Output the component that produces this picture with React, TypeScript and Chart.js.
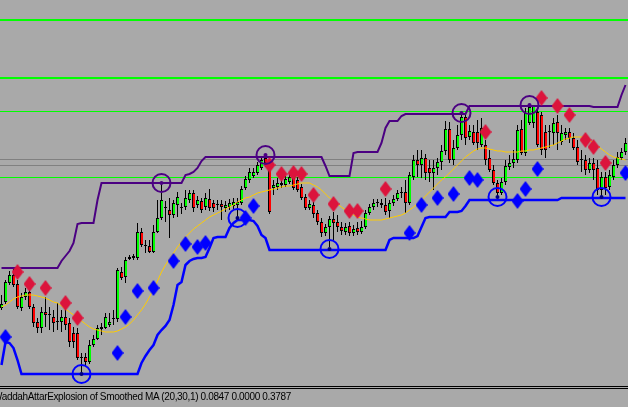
import React, { useEffect, useRef } from 'react';
import { Chart, registerables } from 'chart.js';

Chart.register(...registerables);

// Candle data (arbitrary price units), one entry per bar
const opens = [
  92, 98, 117, 125, 116, 92, 103, 108, 93, 78,
  72, 88, 85, 83, 78, 78, 83, 77, 67, 67,
  42, 43, 38, 55, 61, 71, 72, 75, 81, 81,
  128, 123, 141, 142, 142, 168, 154, 154, 148, 168,
  182, 192, 190, 185, 195, 192, 193, 200, 207, 195,
  199, 193, 201, 197, 195, 196, 192, 193, 194, 195,
  197, 212, 220, 224, 227, 232, 242, 235, 212, 213,
  217, 215, 218, 222, 220, 213, 203, 192, 195, 187,
  178, 167, 173, 181, 178, 173, 168, 174, 167, 172,
  168, 173, 187, 193, 197, 197, 195, 189, 197, 201,
  207, 208, 197, 223, 240, 235, 242, 232, 227, 232,
  238, 249, 271, 240, 252, 265, 283, 263, 268, 268,
  255, 255, 242, 230, 217, 207, 218, 233, 237, 240,
  271, 247, 277, 277, 288, 285, 268, 268, 267, 278,
  258, 265, 268, 262, 253, 240, 240, 230, 237, 232,
  210, 223, 213, 223, 235, 242, 248,
];
const highs = [
  105, 120, 129, 132, 120, 107, 112, 111, 96, 82,
  93, 103, 93, 90, 97, 90, 92, 82, 73, 72,
  47, 47, 60, 65, 75, 77, 87, 87, 90, 132,
  133, 143, 145, 146, 177, 172, 160, 160, 175, 200,
  217, 199, 202, 200, 208, 197, 210, 210, 210, 204,
  202, 207, 211, 200, 200, 200, 199, 201, 202, 202,
  214, 224, 232, 232, 238, 243, 244, 240, 220, 222,
  222, 224, 226, 225, 223, 216, 206, 200, 198, 190,
  182, 176, 184, 188, 185, 178, 177, 178, 175, 178,
  179, 190, 196, 201, 201, 201, 202, 200, 205, 210,
  213, 220, 228, 245, 250, 250, 246, 240, 240, 242,
  255, 279, 278, 260, 275, 286, 285, 275, 275, 280,
  282, 260, 250, 235, 220, 222, 240, 245, 250, 275,
  280, 292, 294, 293, 292, 288, 275, 275, 282, 285,
  275, 272, 272, 267, 260, 250, 245, 242, 242, 240,
  228, 228, 230, 240, 248, 252, 262,
];
const lows = [
  90, 96, 115, 113, 91, 89, 100, 91, 73, 67,
  67, 73, 70, 68, 70, 68, 70, 53, 52, 40,
  26, 34, 36, 53, 60, 65, 71, 73, 75, 78,
  120, 117, 140, 140, 140, 153, 147, 147, 147, 167,
  180, 178, 162, 182, 183, 186, 190, 197, 188, 192,
  187, 190, 189, 188, 190, 180, 188, 190, 191, 183,
  195, 210, 217, 222, 225, 230, 233, 186, 205, 210,
  212, 213, 216, 210, 208, 200, 190, 190, 182, 175,
  163, 164, 153, 160, 168, 165, 165, 164, 164, 165,
  166, 171, 185, 190, 193, 192, 185, 182, 194, 199,
  202, 187, 195, 220, 223, 222, 220, 218, 210, 225,
  230, 245, 237, 235, 250, 260, 255, 260, 255, 250,
  253, 235, 228, 215, 203, 205, 215, 230, 232, 237,
  245, 244, 275, 272, 253, 245, 242, 252, 255, 250,
  255, 260, 257, 250, 235, 228, 225, 227, 220, 205,
  203, 205, 210, 220, 232, 240, 245,
];
const closes = [
  96, 118, 125, 115, 93, 103, 108, 93, 77, 72,
  88, 85, 85, 77, 78, 83, 75, 58, 58, 42,
  42, 38, 55, 61, 72, 73, 83, 78, 81, 130,
  122, 140, 143, 144, 168, 155, 154, 148, 168, 182,
  200, 192, 185, 197, 203, 192, 202, 207, 192, 200,
  190, 202, 192, 192, 195, 193, 195, 197, 198, 198,
  211, 221, 228, 228, 235, 240, 237, 188, 215, 217,
  215, 221, 223, 212, 210, 202, 192, 196, 186, 178,
  167, 173, 181, 177, 173, 169, 173, 167, 171, 168,
  173, 187, 193, 197, 197, 195, 188, 197, 201, 207,
  207, 197, 225, 240, 235, 242, 227, 227, 232, 238,
  249, 271, 240, 252, 265, 283, 262, 269, 257, 257,
  272, 240, 230, 217, 207, 218, 234, 237, 241, 270,
  247, 287, 293, 294, 255, 250, 250, 268, 277, 267,
  267, 268, 262, 252, 238, 240, 230, 237, 230, 210,
  223, 212, 225, 235, 243, 248, 257,
];

// Channel (upper / lower) and smoothed moving average
const upperBand = [
  132, 132, 132, 132, 132, 132, 132, 132, 132, 132,
  132, 132, 132, 132, 132, 139, 144, 149, 157, 176,
  177, 177, 177, 177, 200, 217, 217, 217, 217, 217,
  217, 217, 217, 217, 217, 217, 217, 217, 217, 217,
  217, 217, 217, 217, 217, 217, 225, 226, 228, 232,
  239, 243, 243, 243, 243, 243, 243, 243, 243, 243,
  243, 243, 243, 243, 243, 243, 243, 243, 243, 243,
  243, 243, 243, 243, 243, 243, 243, 243, 243, 243,
  243, 234, 224, 224, 224, 224, 224, 224, 247, 248,
  248, 248, 248, 248, 248, 257, 272, 279, 279, 279,
  284, 286, 286, 286, 286, 286, 286, 286, 286, 286,
  286, 286, 286, 286, 286, 286, 286, 294, 294, 294,
  294, 294, 294, 294, 294, 294, 294, 294, 294, 294,
  294, 294, 294, 294, 294, 294, 294, 294, 294, 294,
  294, 294, 294, 294, 294, 294, 294, 294, 293, 293,
  293, 293, 293, 293, 293, 305, 315,
];
const lowerBand = [
  35, 58, 57, 52, 40, 26, 26, 26, 26, 26,
  26, 26, 26, 26, 26, 26, 26, 26, 26, 26,
  26, 26, 26, 26, 26, 26, 26, 26, 26, 26,
  26, 26, 26, 26, 26, 37, 44, 50, 55, 65,
  70, 74, 80, 95, 115, 118, 135, 139, 141, 142,
  142, 143, 152, 162, 163, 163, 163, 172, 177, 180,
  180, 180, 180, 179, 174, 165, 162, 150, 150, 150,
  150, 150, 150, 150, 150, 150, 150, 150, 150, 150,
  150, 150, 150, 150, 150, 150, 150, 150, 150, 150,
  150, 150, 150, 150, 150, 150, 150, 160, 162, 162,
  162, 162, 162, 162, 164, 173, 182, 183, 183, 183,
  183, 183, 188, 188, 188, 189, 194, 200, 200, 200,
  200, 200, 200, 200, 200, 200, 200, 200, 200, 200,
  200, 200, 200, 200, 200, 200, 200, 200, 200, 200,
  202, 202, 202, 202, 202, 202, 202, 202, 202, 202,
  202, 202, 202, 202, 202, 202, 202,
];
const smoothedMA = [
  93, 95, 98, 101, 103, 104, 105, 105, 105, 104,
  103, 102, 100, 98, 97, 94, 91, 88, 85, 82,
  79, 76, 73, 71, 70, 69, 68, 68, 68, 69,
  71, 73, 76, 80, 85, 90, 96, 103, 111, 119,
  128, 135, 141, 147, 153, 158, 163, 167, 171, 174,
  177, 180, 183, 185, 187, 189, 191, 193, 195, 198,
  200, 202, 203, 205, 207, 208, 209, 210, 211, 212,
  213, 214, 214, 215, 216, 217, 217, 217, 215, 213,
  210, 206, 202, 199, 196, 193, 190, 187, 185, 183,
  182, 181, 180, 180, 180, 180, 181, 182, 183, 184,
  185, 187, 190, 193, 196, 200, 204, 208, 212, 216,
  220, 223, 227, 231, 235, 239, 243, 246, 249, 251,
  252, 252, 251, 250, 249, 249, 248, 248, 248, 248,
  249, 249, 250, 250, 251, 252, 253, 254, 255, 257,
  259, 261, 262, 263, 263, 263, 262, 260, 257, 254,
  251, 248, 245, 243, 242, 241, 240,
];

// Signal arrows (bar index + price)
const redDiamondBars = [4, 7, 11, 16, 19, 67, 70, 73, 75, 78, 83, 87, 89, 96, 121, 135, 139, 142, 146, 148, 151];
const redDiamondValues = [128, 116, 112, 97, 82, 235, 226, 227, 226, 205, 196, 189, 189, 211, 268, 302, 294, 285, 260, 253, 237];
const blueDiamondBars = [1, 29, 31, 34, 38, 43, 46, 49, 51, 61, 63, 102, 105, 109, 113, 117, 119, 129, 131, 134, 156];
const blueDiamondValues = [63, 47, 83, 109, 112, 139, 156, 153, 157, 182, 194, 167, 195, 202, 206, 222, 220, 199, 211, 231, 227];

// Channel touch markers
const highCircleBars = [40, 66, 115, 132];
const highCircleValues = [217, 245, 287, 295];
const lowCircleBars = [20, 59, 82, 124, 150];
const lowCircleValues = [26, 182, 151, 203, 203];

// Horizontal level lines
const greenLevels = [380, 322, 289, 223];
const greenLevelWidths = [2, 2, 1, 1];
const grayLevels = [241, 235];

const statusText = 'WaddahAttarExplosion of Smoothed MA (20,30,1) 0.0847 0.0000 0.3787';

function makeDiamond(color: string): HTMLCanvasElement {
  const c = document.createElement('canvas');
  c.width = 12;
  c.height = 16;
  const g = c.getContext('2d')!;
  g.fillStyle = color;
  g.beginPath();
  g.moveTo(6, 0);
  g.lineTo(12, 8);
  g.lineTo(6, 16);
  g.lineTo(0, 8);
  g.closePath();
  g.fill();
  return c;
}

export default function App() {
  const ref = useRef<HTMLCanvasElement>(null);

  useEffect(() => {
    document.body.style.margin = '0';
    document.body.style.background = '#a9a9a9';
    const canvas = ref.current!;

    const bodyColors = opens.map((o, i) => (closes[i] > o ? '#00ff00' : closes[i] < o ? '#ff0000' : '#000000'));
    const wickData = opens.map((_, i) => ({ x: i, y: [lows[i], highs[i]] }));
    const bodyData = opens.map((o, i) => ({ x: i, y: [o, closes[i]] }));
    const toPts = (arr: number[]) => arr.map((v, i) => ({ x: i, y: v }));
    const toMarks = (bars: number[], vals: number[]) => bars.map((b, k) => ({ x: b, y: vals[k] }));

    const redDiamond = makeDiamond('#dc143c');
    const blueDiamond = makeDiamond('#0000ff');

    const levelsPlugin = {
      id: 'levels',
      beforeDatasetsDraw(chart: any) {
        const { ctx, chartArea: a, scales } = chart;
        const y = scales.y;
        ctx.save();
        grayLevels.forEach((lv) => {
          const py = Math.round(y.getPixelForValue(lv)) + 0.5;
          ctx.strokeStyle = '#808080';
          ctx.lineWidth = 1;
          ctx.beginPath();
          ctx.moveTo(a.left, py);
          ctx.lineTo(a.right, py);
          ctx.stroke();
        });
        greenLevels.forEach((lv, k) => {
          const w = greenLevelWidths[k];
          const base = Math.round(y.getPixelForValue(lv));
          const py = w % 2 === 1 ? base + 0.5 : base;
          ctx.strokeStyle = '#00ff00';
          ctx.lineWidth = w;
          ctx.beginPath();
          ctx.moveTo(a.left, py);
          ctx.lineTo(a.right, py);
          ctx.stroke();
        });
        ctx.restore();
      },
      afterDraw(chart: any) {
        const { ctx, chartArea: a, width } = chart;
        ctx.save();
        ctx.strokeStyle = '#000000';
        ctx.lineWidth = 1;
        [1.5, 3.5].forEach((off) => {
          ctx.beginPath();
          ctx.moveTo(0, a.bottom + off);
          ctx.lineTo(width, a.bottom + off);
          ctx.stroke();
        });
        ctx.restore();
      },
    };

    const chart = new Chart(canvas, {
      type: 'bar',
      data: {
        datasets: [
          {
            type: 'line',
            label: 'Smoothed MA',
            data: toPts(smoothedMA),
            borderColor: '#ffcc00',
            borderWidth: 1,
            pointRadius: 0,
            tension: 0,
            order: 3,
          } as any,
          {
            type: 'bar',
            label: 'wick',
            data: wickData,
            backgroundColor: '#000000',
            barThickness: 1,
            grouped: false,
            inflateAmount: 0,
            order: 8,
          } as any,
          {
            type: 'bar',
            label: 'body',
            data: bodyData,
            backgroundColor: bodyColors,
            borderColor: '#000000',
            borderWidth: { left: 1, right: 0, top: 1, bottom: 1 },
            borderSkipped: false,
            barThickness: 3,
            minBarLength: 1,
            grouped: false,
            inflateAmount: 0,
            order: 7,
          } as any,
          {
            type: 'line',
            label: 'upper',
            data: toPts(upperBand),
            borderColor: '#4b0082',
            borderWidth: 2,
            pointRadius: 0,
            tension: 0,
            order: 4,
          } as any,
          {
            type: 'line',
            label: 'lower',
            data: toPts(lowerBand),
            borderColor: '#0000ff',
            borderWidth: 2.5,
            pointRadius: 0,
            tension: 0,
            order: 4,
          } as any,
          {
            type: 'line',
            label: 'sell',
            data: toMarks(redDiamondBars, redDiamondValues),
            showLine: false,
            pointStyle: redDiamond,
            pointRadius: 7,
            order: 2,
            clip: false,
          } as any,
          {
            type: 'line',
            label: 'buy',
            data: toMarks(blueDiamondBars, blueDiamondValues),
            showLine: false,
            pointStyle: blueDiamond,
            pointRadius: 7,
            order: 2,
            clip: false,
          } as any,
          {
            type: 'line',
            label: 'highCircle',
            data: toMarks(highCircleBars, highCircleValues),
            showLine: false,
            pointStyle: 'circle',
            pointRadius: 9,
            pointBorderWidth: 2,
            pointBorderColor: '#4b0082',
            pointBackgroundColor: 'rgba(0,0,0,0)',
            order: 1,
          } as any,
          {
            type: 'line',
            label: 'highDot',
            data: toMarks(highCircleBars, highCircleValues),
            showLine: false,
            pointStyle: 'circle',
            pointRadius: 2,
            pointBorderWidth: 0,
            pointBackgroundColor: '#4b0082',
            order: 0,
          } as any,
          {
            type: 'line',
            label: 'lowCircle',
            data: toMarks(lowCircleBars, lowCircleValues),
            showLine: false,
            pointStyle: 'circle',
            pointRadius: 9,
            pointBorderWidth: 2,
            pointBorderColor: '#0000ff',
            pointBackgroundColor: 'rgba(0,0,0,0)',
            order: 1,
          } as any,
          {
            type: 'line',
            label: 'lowDot',
            data: toMarks(lowCircleBars, lowCircleValues),
            showLine: false,
            pointStyle: 'circle',
            pointRadius: 2,
            pointBorderWidth: 0,
            pointBackgroundColor: '#000080',
            order: 0,
          } as any,
        ],
      },
      options: {
        responsive: false,
        animation: false,
        events: [],
        layout: { autoPadding: false, padding: { left: 0, right: 0, top: 0, bottom: 22 } },
        plugins: {
          legend: { display: false },
          tooltip: { enabled: false },
          title: { display: false },
        },
        scales: {
          x: { type: 'linear', min: -0.375, max: 156.625, display: false, offset: false },
          y: { type: 'linear', min: 15, max: 400, display: false },
        },
      } as any,
      plugins: [levelsPlugin],
    });

    return () => chart.destroy();
  }, []);

  return (
    <div
      style={{
        position: 'relative',
        width: 628,
        height: 407,
        background: '#a9a9a9',
        overflow: 'hidden',
      }}
    >
      <canvas ref={ref} width={628} height={407} style={{ display: 'block' }} />
      <div
        style={{
          position: 'absolute',
          left: -7,
          top: 391,
          fontFamily: '"Liberation Sans", Arial, sans-serif',
          fontSize: 10,
          lineHeight: '12px',
          letterSpacing: '-0.35px',
          whiteSpace: 'nowrap',
          color: '#000000',
        }}
      >
        {statusText}
      </div>
    </div>
  );
}
